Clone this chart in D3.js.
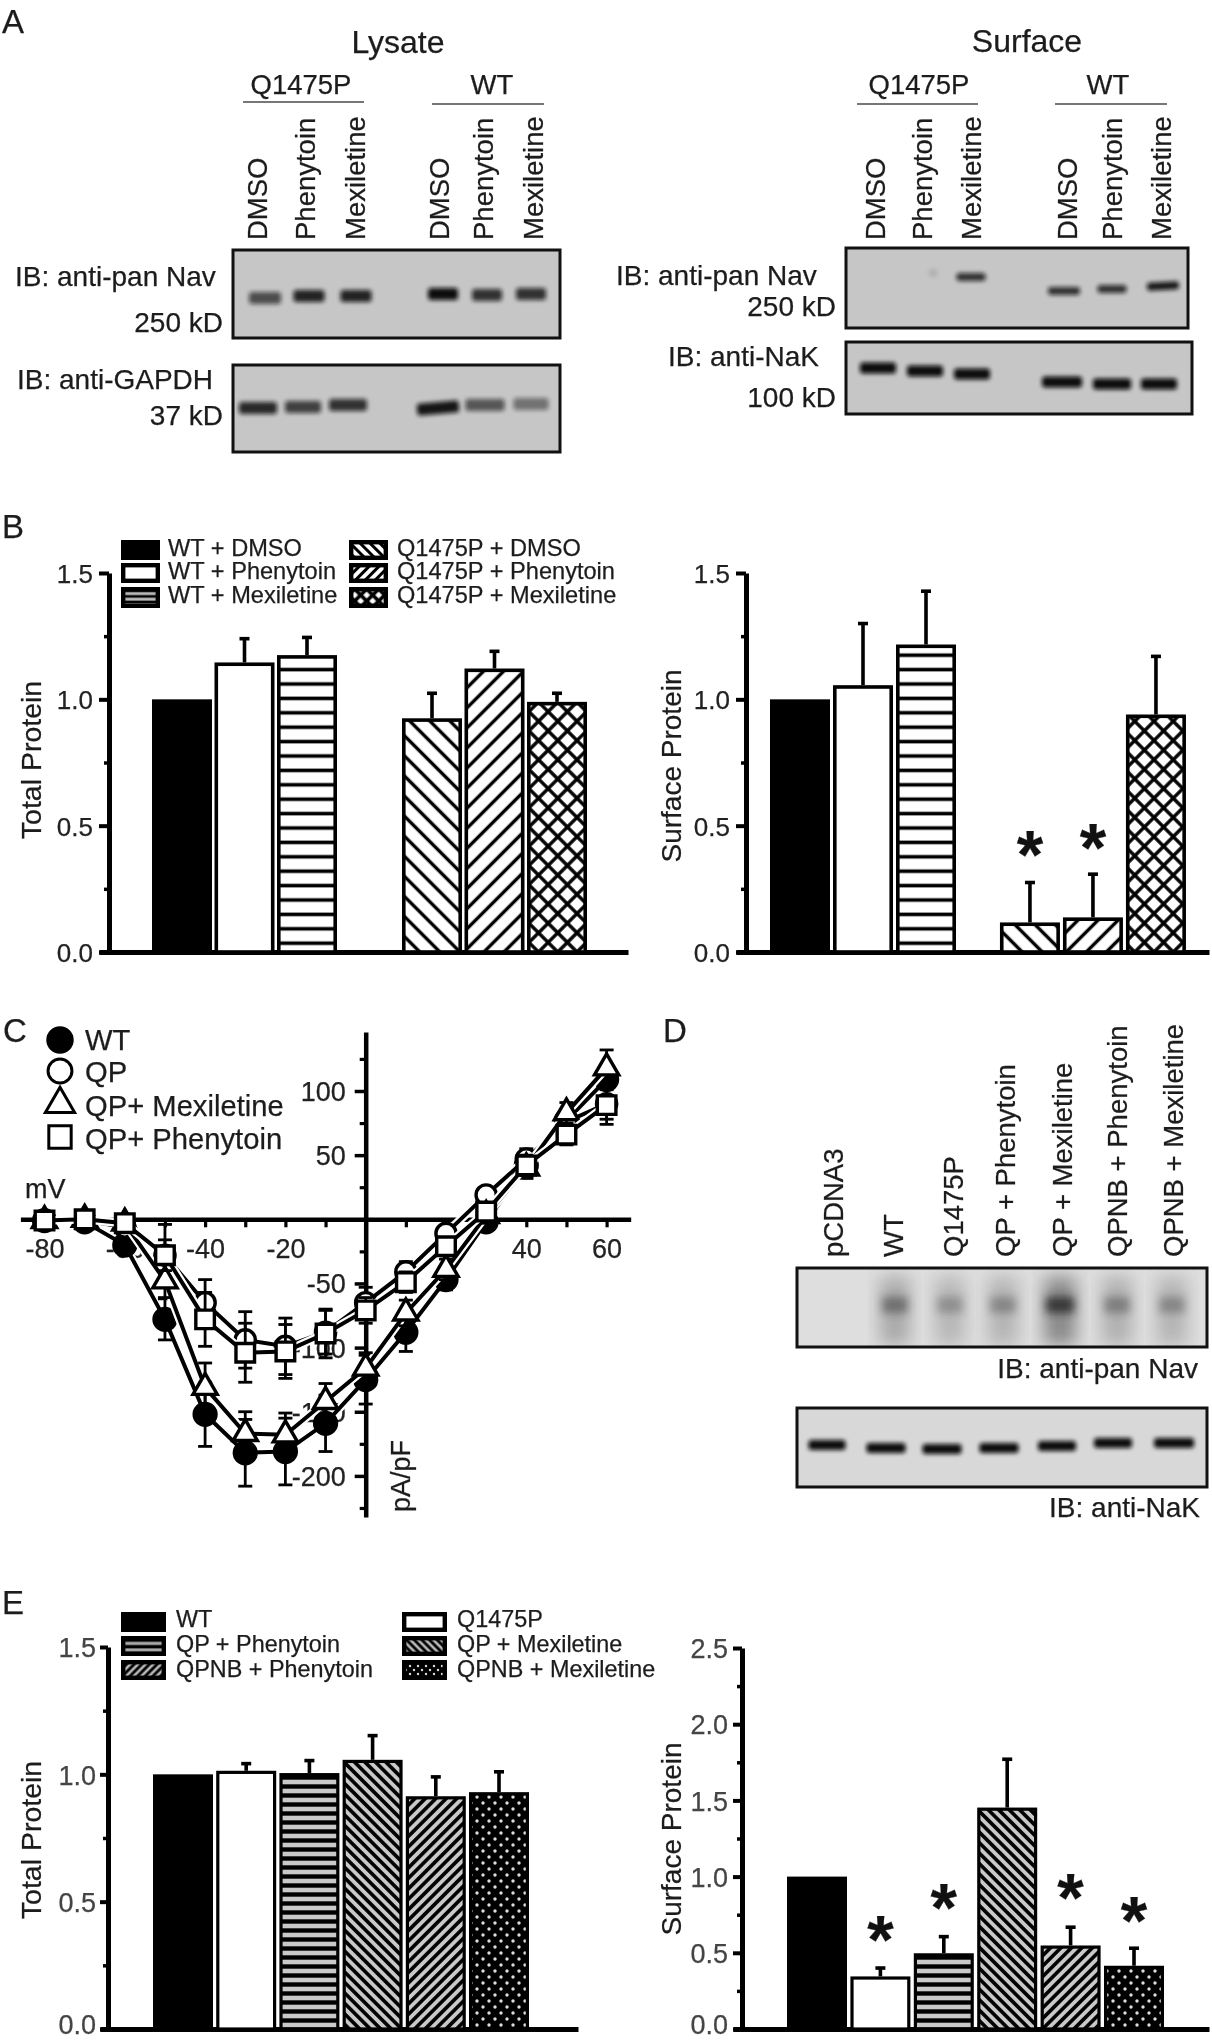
<!DOCTYPE html>
<html><head><meta charset="utf-8">
<script src="https://cdn.jsdelivr.net/npm/d3@7"></script>
<style>
html,body{margin:0;padding:0;background:#fff}
svg{display:block;filter:blur(0.6px)}
text{font-family:"Liberation Sans",Arial,sans-serif;fill:#1c1c1c;stroke:#1c1c1c;stroke-width:.25px}
</style></head><body>
<svg id="fig" width="1212" height="2040"></svg>
<script>
// ---------- data ----------
const bCategories = ["WT + DMSO","WT + Phenytoin","WT + Mexiletine","Q1475P + DMSO","Q1475P + Phenytoin","Q1475P + Mexiletine"];
const bTotalValues = [1.0,1.146,1.175,0.925,1.122,0.99];
const bTotalErrorTops = [null,1.24,1.245,1.024,1.19,1.024];
const bSurfaceValues = [1.0,1.056,1.217,0.117,0.137,0.94];
const bSurfaceErrorTops = [null,1.30,1.428,0.275,0.308,1.17];
const eCategories = ["WT","Q1475P","QP + Phenytoin","QP + Mexiletine","QPNB + Phenytoin","QPNB + Mexiletine"];
const eTotalValues = [1.0,1.014,1.005,1.057,0.914,0.93];
const eTotalErrorTops = [null,1.042,1.054,1.152,0.99,1.01];
const eSurfaceValues = [1.0,0.345,0.497,1.453,0.548,0.415];
const eSurfaceErrorTops = [null,0.40,0.606,1.77,0.668,0.53];
const voltages = [-80,-70,-60,-50,-40,-30,-20,-10,0,10,20,30,40,50,60];
const ivWT = [-1,-2,-20,-78,-152,-182,-181,-159,-125,-88,-47,-2,42,77,109];
const ivWTerr = [4,4,6,16,25,26,26,22,19,15,8,6,10,8,8];
const ivQP = [-1,-1,-6,-28,-65,-94,-99,-88,-65,-41,-11,19,47,76,90];
const ivQPerr = [4,4,4,24,18,22,22,17,12,8,6,5,8,8,12];
const ivMex = [-1,0,-3,-48,-131,-167,-168,-142,-116,-73,-39,3,40,83,118];
const ivMexErr = [4,4,4,13,19,17,17,14,12,10,8,6,8,8,14];
const ivPhen = [-1,0,-3,-28,-78,-104,-103,-89,-71,-49,-21,6,42,66,89];
const ivPhenErr = [4,4,4,12,21,23,21,19,10,8,6,5,8,8,15];
const cSeriesNames = ["WT","QP","QP+ Mexiletine","QP+ Phenytoin"];
const mvLabels = [-80,-60,-40,-20,40,60];
const paMajor = [-200,-150,-100,-50,50,100];
const paMinor = [-225,-175,-125,-75,-25,25,75,125];
const treatments = ["DMSO","Phenytoin","Mexiletine"];
const dLanes = ["pCDNA3","WT","Q1475P","QP + Phenytoin","QP + Mexiletine","QPNB + Phenytoin","QPNB + Mexiletine"];
const lysateNavBands = [.65,.88,.88,1,.8,.8];
const lysateGapdhBands = [.85,.72,.8,.95,.6,.45];
const surfaceNavBands = [.12,.8,.8,.8,.95];
const surfaceNakBands = [1,1,1,1,1,1];
const dNavBands = [.55,.35,.4,1,.45,.4];
const dNakBands = [1,1,1,1,1,1,1];

// ---------- helpers ----------
const svg = d3.select("#fig");
const defs = svg.append("defs");
const blur = (id,s)=>defs.append("filter").attr("id",id).attr("x","-40%").attr("y","-150%").attr("width","180%").attr("height","400%")
  .append("feGaussianBlur").attr("stdDeviation",s);
blur("b1",2); blur("b2",9); blur("b3",4);

function pattern(id,kind,sp,th,bg,rot,line){
  const p = defs.append("pattern").attr("id",id).attr("patternUnits","userSpaceOnUse")
    .attr("width",sp).attr("height",sp);
  if(rot) p.attr("patternTransform",`rotate(${rot})`);
  p.append("rect").attr("width",sp).attr("height",sp).attr("fill",bg);
  if(kind==="h"||kind==="x") p.append("rect").attr("y",(sp-th)/2).attr("width",sp).attr("height",th).attr("fill",line||"#000");
  if(kind==="x") p.append("rect").attr("x",(sp-th)/2).attr("width",th).attr("height",sp).attr("fill",line||"#000");
  if(kind==="d"){
    p.append("circle").attr("cx",sp/4).attr("cy",sp/4).attr("r",th).attr("fill","#ddd");
    p.append("circle").attr("cx",3*sp/4).attr("cy",3*sp/4).attr("r",th).attr("fill","#ddd");
  }
}
pattern("hB","h",14.4,3.6,"#fff");
pattern("dsB","h",14.2,3.4,"#fff",45);
pattern("duB","h",14.2,3.4,"#fff",-45);
pattern("xB","x",13.6,3.4,"#fff",45);
pattern("hBl","h",5.6,2.6,"#bbb");
pattern("dsBl","h",7,3,"#fff",45);
pattern("duBl","h",7,3,"#fff",-45);
pattern("xBl","x",8.5,3.6,"#fff",45);
pattern("hE","h",9,4.4,"#c9c9c9");
pattern("dsE","h",7.4,3.6,"#c9c9c9",45);
pattern("duE","h",7.4,3.6,"#c9c9c9",-45);
pattern("dE","d",12,1.7,"#000");
pattern("hEl","h",6.6,3.4,"#aaa");
pattern("dsEl","h",5.4,2.8,"#bbb",45);
pattern("duEl","h",5.4,2.8,"#bbb",-45);
pattern("dEl","d",8,1.2,"#000");

function txt(s,x,y,size,anchor){
  return svg.append("text").attr("x",x).attr("y",y).attr("font-size",size).attr("text-anchor",anchor||"start").text(s);
}
function vtxt(s,x,y,size,anchor){
  return svg.append("text").attr("transform",`translate(${x},${y}) rotate(-90)`).attr("font-size",size)
    .attr("text-anchor",anchor||"start").text(s);
}

function blot(x,y,w,h,bg,bands,opts){
  const g = svg.append("g");
  const cid = "c"+Math.round(x)+"_"+Math.round(y);
  defs.append("clipPath").attr("id",cid).append("rect").attr("x",x).attr("y",y).attr("width",w).attr("height",h);
  g.append("rect").attr("x",x).attr("y",y).attr("width",w).attr("height",h).attr("fill",bg);
  const inner = g.append("g").attr("clip-path",`url(#${cid})`);
  bands.forEach(b=>{
    if(b.smear){
      inner.append("rect").attr("x",b.x-b.w/2).attr("y",b.y-28).attr("width",b.w).attr("height",68)
        .attr("fill","#333").attr("opacity",b.i*.42+.08).attr("filter","url(#b2)");
      inner.append("rect").attr("x",b.x-b.w/2+2).attr("y",b.y-8).attr("width",b.w-4).attr("height",16)
        .attr("fill","#222").attr("opacity",b.i*.8).attr("filter","url(#b3)");
    } else {
      inner.append("rect").attr("x",b.x-b.w/2).attr("y",b.y-b.h/2).attr("width",b.w).attr("height",b.h).attr("rx",3)
        .attr("fill","#0c0c0c").attr("opacity",b.i).attr("filter","url(#b1)")
        .attr("transform",b.tilt?`rotate(${b.tilt},${b.x},${b.y})`:null);
    }
  });
  g.append("rect").attr("x",x).attr("y",y).attr("width",w).attr("height",h).attr("fill","none").attr("stroke","#111").attr("stroke-width",3);
}
const bands=(xs,ys,ws,vals,h,tilts)=>vals.map((v,i)=>({x:xs[i],y:ys[i],w:ws[i],i:v,h:h,tilt:tilts?tilts[i]:0}));

function barPanel(o){
  const g = svg.append("g");
  const y = d3.scaleLinear().domain(o.domain).range([o.y0,o.y1]);
  const x = d3.scaleLinear().domain([0,1]).range([o.x0,o.x0+o.step]);
  const slot = i=> i + (i>=o.gapAfter ? o.gap : 0);
  const ax = g.append("g").attr("transform",`translate(${o.axisX},0)`)
    .call(d3.axisLeft(y).tickValues(o.ticks).tickSize(o.tick).tickPadding(o.pad).tickSizeOuter(0).tickFormat(d3.format(".1f")));
  ax.select(".domain").attr("stroke","#000").attr("stroke-width",5);
  ax.selectAll(".tick line").attr("stroke","#000").attr("stroke-width",4);
  ax.selectAll(".tick text").attr("font-size",o.tickFont).attr("font-family",null).attr("dy","0.36em")
    .style("fill",o.tickColor||"#222").style("stroke",o.tickColor||"#222");
  if(o.bottomLift) ax.selectAll(".tick text").filter(d=>d===0).attr("dy","0.18em");
  const mi = g.append("g").attr("transform",`translate(${o.axisX},0)`)
    .call(d3.axisLeft(y).tickValues(o.minor).tickSize(5).tickFormat("").tickSizeOuter(0));
  mi.select(".domain").remove();
  mi.selectAll(".tick line").attr("stroke","#000").attr("stroke-width",3.5);
  const xb = d3.scaleLinear().domain([0,1]).range([o.axisX0,o.axisX1]);
  const bx = g.append("g").attr("transform",`translate(0,${o.y0})`).call(d3.axisBottom(xb).tickValues([]).tickSizeOuter(0));
  bx.select(".domain").attr("stroke","#000").attr("stroke-width",5);
  const barG = g.append("g");
  o.values.forEach((v,i)=>{
    const cx = x(slot(i))+o.barW/2;
    if(o.errors[i]!=null){
      barG.append("line").attr("x1",cx).attr("x2",cx).attr("y1",y(v)).attr("y2",y(o.errors[i])).attr("stroke","#000").attr("stroke-width",3.6);
      barG.append("line").attr("x1",cx-5).attr("x2",cx+5).attr("y1",y(o.errors[i])).attr("y2",y(o.errors[i])).attr("stroke","#000").attr("stroke-width",3.6);
    }
    const th = o.barStroke;
    barG.append("rect").attr("x",x(slot(i))+th/2).attr("y",y(v)+th/2)
      .attr("width",o.barW-th).attr("height",y(0)-y(v)-th/2)
      .attr("fill",o.fills[i]).attr("stroke","#000").attr("stroke-width",th);
  });
  vtxt(o.title,o.titleX,o.titleY,o.titleFont,"middle");
  (o.stars||[]).forEach(i=>{
    const s=o.starSize;
    svg.append("text").attr("x",x(slot(i))+o.barW/2).attr("y",o.starY[i]+s*.56).attr("font-size",s).attr("font-weight","bold")
       .attr("text-anchor","middle").style("fill","#111").text("*");
  });
}

function legend(items,fills,sx,sw,rows,tx,size){
  items.forEach((t,i)=>{
    const th=4.4;
    svg.append("rect").attr("x",sx+th/2).attr("y",rows[i].y+th/2).attr("width",sw-th).attr("height",rows[i].h-th)
      .attr("fill",fills[i]).attr("stroke","#000").attr("stroke-width",th);
    txt(t,tx,rows[i].b,size);
  });
}

// ---------- panel letters ----------
[["A",2,33],["B",2,538],["C",3,1042],["D",663,1042],["E",2,1614]].forEach(d=>txt(d[0],d[1],d[2],33));

// ---------- panel A ----------
txt("Lysate",398,53,32,"middle");
txt("Surface",1027,52,32,"middle");
[[301,94,243,364,102,"Q1475P"],[492,94,432,544,104,"WT"],[919,94,857,978,104,"Q1475P"],[1108,94,1055,1167,104,"WT"]].forEach(d=>{
  txt(d[5],d[0],d[1],27.5,"middle");
  svg.append("line").attr("x1",d[2]).attr("x2",d[3]).attr("y1",d[4]).attr("y2",d[4]).attr("stroke","#777").attr("stroke-width",2);
});
[267,315,365,449,493,543].forEach((x,i)=>vtxt(treatments[i%3],x,240,27.5));
[885,932,981,1077,1122,1171].forEach((x,i)=>vtxt(treatments[i%3],x,240,27.5));
txt("IB: anti-pan Nav",15,286,28);
txt("250 kD",223,332,28,"end");
txt("IB: anti-GAPDH",17,389,28);
txt("37 kD",223,425,28,"end");
txt("IB: anti-pan Nav",616,285,28);
txt("250 kD",836,316,28,"end");
txt("IB: anti-NaK",668,366,28);
txt("100 kD",836,407,28,"end");
blot(233,250,327,88,"#c6c6c6",bands([265,309,356,443,487,531],[298,296,296,294,295,294],[32,31,31,30,30,30],lysateNavBands,12));
blot(233,365,327,87,"#c6c6c6",bands([258,303,348,438,485,531],[408,407,405,408,405,404],[38,36,38,42,39,35],lysateGapdhBands,12,[0,0,0,-5,0,0]));
blot(846,248,342,80,"#c6c6c6",bands([933,971,1064,1112,1163],[273,277,291,289,286],[8,29,32,29,32],surfaceNavBands,8,[0,0,0,0,-3]));
blot(846,342,346,72,"#c6c6c6",bands([878,925,972,1062,1112,1159],[368,371,374,382,384,384],[36,36,36,40,38,36],surfaceNakBands,11));

// ---------- panel B ----------
const bFills=["#000","#fff","url(#hB)","url(#dsB)","url(#duB)","url(#xB)"];
const bLegFills=["#000","#fff","url(#hBl)","url(#dsBl)","url(#duBl)","url(#xBl)"];
const bRows=[{y:540,h:20,b:556},{y:563,h:20,b:579},{y:587,h:21,b:603}];
legend(bCategories.slice(0,3),bLegFills.slice(0,3),121,39,bRows,168,23.6);
legend(bCategories.slice(3),bLegFills.slice(3),349,39,bRows,397,23.6);
barPanel({values:bTotalValues,errors:bTotalErrorTops,fills:bFills,domain:[0,1.5],y0:952,y1:573,x0:152,step:62.5,barW:60,gapAfter:3,gap:1,
  axisX:109,axisX0:99,axisX1:628,ticks:[0,.5,1,1.5],minor:[.25,.75,1.25],tick:10,pad:6,tickFont:26,barStroke:3.6,title:"Total Protein",titleX:41,titleY:760,titleFont:28.5});
barPanel({values:bSurfaceValues,errors:bSurfaceErrorTops,fills:bFills,domain:[0,1.5],y0:952,y1:573,x0:770,step:63,barW:60,gapAfter:3,gap:.65,
  axisX:746,axisX0:736,axisX1:1209,ticks:[0,.5,1,1.5],minor:[.25,.75,1.25],tick:10,pad:6,tickFont:26,barStroke:3.6,title:"Surface Protein",titleX:681,titleY:766,titleFont:28,
  stars:[3,4],starY:{3:840,4:833},starSize:68});

// ---------- panel C ----------
(function(){
  const unitX=4.015, unitY=1.283, zeroX=365.7, zeroY=1219.3;
  const x=d3.scaleLinear().domain([-86,66]).range([zeroX-86*unitX,zeroX+66*unitX]);
  const y=d3.scaleLinear().domain([146,-232]).range([zeroY-146*unitY,zeroY+232*unitY]);
  const g=svg.append("g");
  const ay=g.append("g").attr("transform",`translate(${zeroX},0)`)
    .call(d3.axisLeft(y).tickValues(paMajor).tickSize(11).tickPadding(9).tickSizeOuter(0).tickFormat(d=>String(d)));
  ay.select(".domain").attr("stroke","#000").attr("stroke-width",4.5);
  ay.selectAll(".tick line").attr("stroke","#000").attr("stroke-width",3.5);
  ay.selectAll(".tick text").attr("font-size",27).attr("font-family",null).attr("dy","0.35em").style("fill","#222");
  const am=g.append("g").attr("transform",`translate(${zeroX},0)`).call(d3.axisLeft(y).tickValues(paMinor).tickSize(6).tickFormat("").tickSizeOuter(0));
  am.select(".domain").remove(); am.selectAll(".tick line").attr("stroke","#000").attr("stroke-width",3.2);
  const ax=g.append("g").attr("transform",`translate(0,${y(0)})`)
    .call(d3.axisBottom(x).tickValues(voltages).tickSize(8).tickSizeOuter(0).tickFormat(d=>mvLabels.includes(d)?String(d):""));
  ax.select(".domain").attr("stroke","#000").attr("stroke-width",4.5);
  ax.selectAll(".tick line").attr("stroke","#000").attr("stroke-width",3.2);
  ax.selectAll(".tick text").attr("font-size",27).attr("font-family",null).attr("y",39).attr("dy",0).style("fill","#222");
  txt("mV",25,1198,27);
  vtxt("pA/pF",410,1476,27,"middle");

  const types=[{v:ivWT,e:ivWTerr,sym:d3.symbolCircle,size:375,fill:"#000",leg:1.25},
               {v:ivQP,e:ivQPerr,sym:d3.symbolCircle,size:320,fill:"#fff",leg:1.4},
               {v:ivMex,e:ivMexErr,sym:d3.symbolTriangle,size:255,fill:"#fff",leg:1.45},
               {v:ivPhen,e:ivPhenErr,sym:d3.symbolSquare,size:345,fill:"#fff",leg:1.45}];
  const line=d3.line().x((d,i)=>x(voltages[i])).y(d=>y(d));
  types.forEach(t=>{
    const s=g.append("g");
    s.append("path").attr("d",line(t.v)).attr("fill","none").attr("stroke","#fff").attr("stroke-width",8.5);
    s.append("path").attr("d",line(t.v)).attr("fill","none").attr("stroke","#000").attr("stroke-width",4);
    t.v.forEach((v,i)=>{
      const cx=x(voltages[i]),lo=y(v-t.e[i]),hi=y(v+t.e[i]);
      s.append("line").attr("x1",cx).attr("x2",cx).attr("y1",lo).attr("y2",hi).attr("stroke","#000").attr("stroke-width",2.8);
      [lo,hi].forEach(q=>s.append("line").attr("x1",cx-7).attr("x2",cx+7).attr("y1",q).attr("y2",q).attr("stroke","#000").attr("stroke-width",2.8));
    });
    t.v.forEach((v,i)=>{
      s.append("path").attr("d",d3.symbol().type(t.sym).size(t.size)()).attr("transform",`translate(${x(voltages[i])},${y(v)})`)
        .attr("fill",t.fill).attr("stroke","#000").attr("stroke-width",3.4);
    });
  });
  const legY=[1040,1071,1104,1137],legB=[1050,1082,1116,1149];
  types.forEach((t,i)=>{
    g.append("path").attr("d",d3.symbol().type(t.sym).size(t.size*t.leg)()).attr("transform",`translate(60,${legY[i]})`)
      .attr("fill",t.fill).attr("stroke","#000").attr("stroke-width",3);
    txt(cSeriesNames[i],85,legB[i],29.2);
  });
})();

// ---------- panel D ----------
[833,893,953,1005,1062,1117,1173].forEach((x,i)=>vtxt(dLanes[i],x+10,1257,27.5));
blot(797,1268,410,79,"#dedede",[895,950,1003,1060,1117,1172].map((x,i)=>({x:x,y:1305,w:[30,30,30,32,30,30][i],i:dNavBands[i],smear:true})));
blot(797,1408,410,79,"#d8d8d8",bands([827,886,942,999,1057,1113,1174],[1445,1448,1449,1448,1446,1443,1443],[37,39,39,39,38,38,40],dNakBands,10));
txt("IB: anti-pan Nav",1198,1378,28,"end");
txt("IB: anti-NaK",1200,1517,28,"end");

// ---------- panel E ----------
const eFills=["#000","#fff","url(#hE)","url(#dsE)","url(#duE)","url(#dE)"];
const eLegFills=["#000","#fff","url(#hEl)","url(#dsEl)","url(#duEl)","url(#dEl)"];
const eRows=[{y:1612,h:20,b:1627},{y:1636,h:20,b:1652},{y:1660,h:20,b:1677}];
legend([eCategories[0],eCategories[2],eCategories[4]],[eLegFills[0],eLegFills[2],eLegFills[4]],121,45,eRows,176,23.4);
legend([eCategories[1],eCategories[3],eCategories[5]],[eLegFills[1],eLegFills[3],eLegFills[5]],402,45,eRows,457,23.4);
barPanel({values:eTotalValues,errors:eTotalErrorTops,fills:eFills,domain:[0,1.5],y0:2029,y1:1647,x0:153,step:63.2,barW:60,gapAfter:9,gap:0,bottomLift:true,
  axisX:108,axisX0:100,axisX1:578,ticks:[0,.5,1,1.5],minor:[.25,.75,1.25],tick:8,pad:4,tickFont:27,tickColor:"#444",barStroke:3.2,title:"Total Protein",titleX:41,titleY:1840,titleFont:28.5});
barPanel({values:eSurfaceValues,errors:eSurfaceErrorTops,fills:eFills,domain:[0,2.5],y0:2029,y1:1648,x0:787,step:63.4,barW:60,gapAfter:9,gap:0,bottomLift:true,
  axisX:742,axisX0:733,axisX1:1209,ticks:[0,.5,1,1.5,2,2.5],minor:[.25,.75,1.25,1.75,2.25],tick:9,pad:5,tickFont:27,tickColor:"#444",barStroke:3.2,title:"Surface Protein",titleX:681,titleY:1839,titleFont:28,
  stars:[1,2,4,5],starY:{1:1925,2:1893,4:1883,5:1906},starSize:68});
</script>
</body></html>
